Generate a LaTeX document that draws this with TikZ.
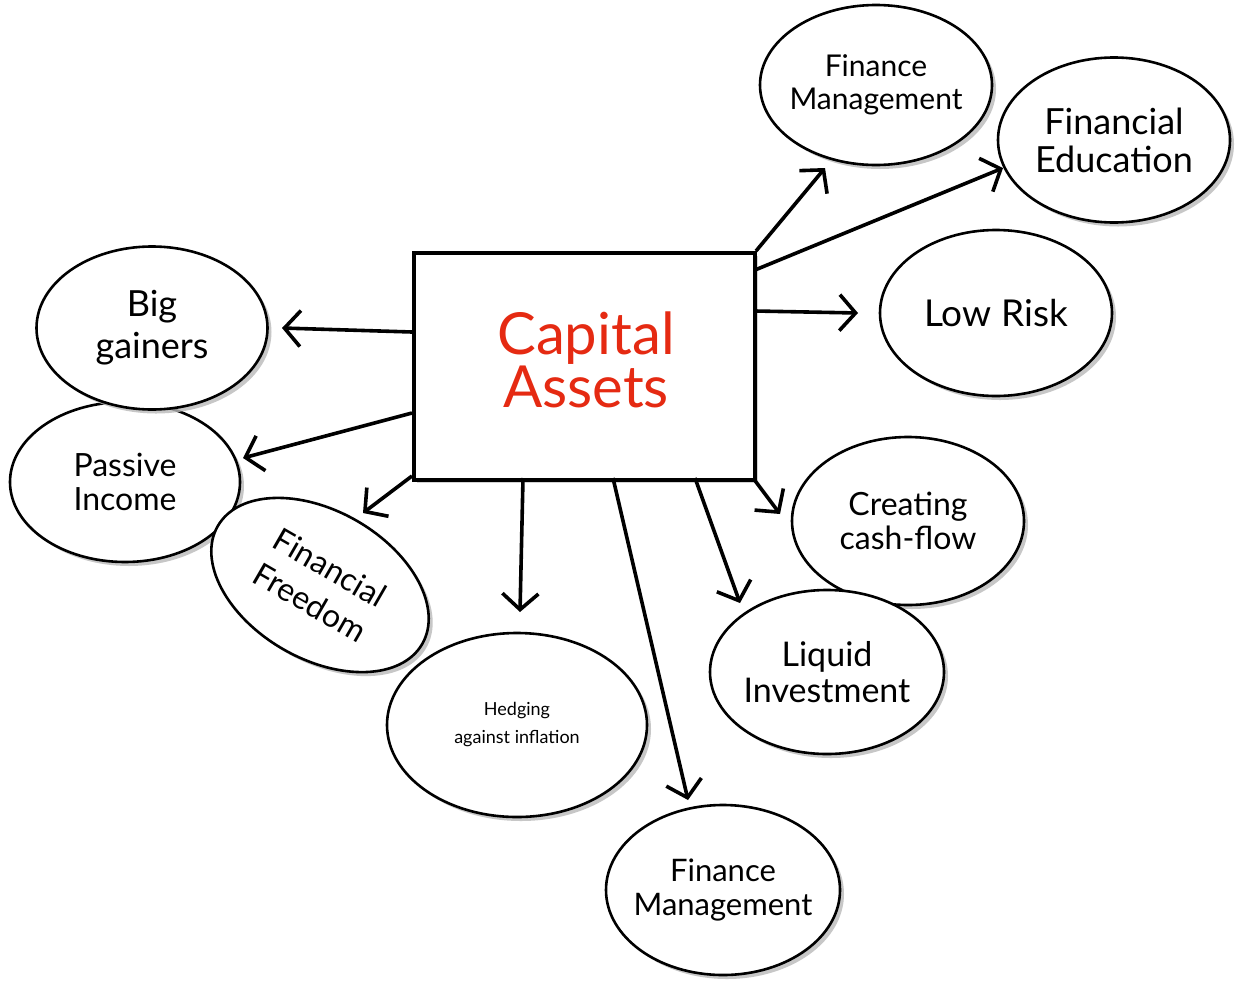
\documentclass[tikz,border=0pt]{standalone}
\usepackage{fontspec}
\setmainfont{Lato}
\usetikzlibrary{shapes.geometric,shadows,arrows.meta,calc}
\definecolor{capred}{HTML}{E52A12}
\tikzset{
  bub/.style={ellipse, draw=black, line width=2.6pt, fill=white, align=center,
    inner sep=-30pt, drop shadow={shadow xshift=4pt, shadow yshift=-4pt, fill=gray!55, opacity=0.8}},
  arr/.style={line width=3.6pt, -{Straight Barb[length=16pt,width=36pt,line width=3.6pt]}},
  fs/.style 2 args={font=\fontsize{#1}{#2}\selectfont}
}
\begin{document}
\begin{tikzpicture}[x=1pt,y=-1pt]
\useasboundingbox[fill=white] (0,0) rectangle (1244,996);

% center box
\node[draw=black, line width=4pt, fill=white, minimum width=341pt, minimum height=227pt,
  drop shadow={shadow xshift=3pt, shadow yshift=-3pt, fill=gray!70}]
  (ca) at (584.5,366.5) {};
\node[text=capred, align=center, fs={58}{50}] (cat) at (586,360) {Capital\\Assets};

% bubbles
\node[bub, minimum width=232pt, minimum height=160pt, fs={30}{33}] (fm1) at (876,85) {Finance\\Management};
\node[bub, minimum width=232pt, minimum height=165pt, fs={36}{38}] (fe) at (1114,140) {Financial\\Education};
\node[bub, minimum width=232pt, minimum height=166pt, fs={37}{40}] (lr) at (996,313) {Low Risk};
\node[bub, minimum width=230pt, minimum height=160pt, fs={32}{34}] (pi) at (125,482) {Passive\\Income};
\node[bub, minimum width=231pt, minimum height=163pt, fs={36}{42}] (bg) at (152,328) {Big\\gainers};
\node[bub, minimum width=236pt, minimum height=148pt, rotate=-30, fs={32}{40}] (ff) at (320,585) {Financial\\Freedom};
\node[bub, minimum width=260pt, minimum height=184pt, fs={18}{20}] (hi) at (517,725) {Hedging\\[8pt]against inflation};
\node[bub, minimum width=232pt, minimum height=168pt, fs={32}{34}] (cc) at (908,521) {Creating\\cash-flow};
\node[bub, minimum width=234pt, minimum height=164pt, fs={34}{36}] (li) at (827,672) {Liquid\\Investment};
\node[bub, minimum width=234pt, minimum height=170pt, fs={31}{34}] (fm2) at (723,890) {Finance\\Management};

% arrow tips
\coordinate (t1) at (825,168);
\coordinate (t2) at (1003,168);
\coordinate (t3) at (858,313);
\coordinate (t4) at (282,328);
\coordinate (t5) at (243,458);
\coordinate (t6) at (363,513);
\coordinate (t7) at (520,612);
\coordinate (t8) at (688,800);
\coordinate (t9) at (740,603);
\coordinate (t10) at (780,514);

\draw[arr] ($(ca.north west)+(344,0)$) -- (t1);
\draw[arr] ($(ca.north west)+(343,19)$) -- (t2);
\draw[arr] ($(ca.north west)+(343,60)$) -- (t3);
\draw[arr] ($(ca.north west)+(0,81)$) -- (t4);
\draw[arr] ($(ca.north west)+(0,162)$) -- (t5);
\draw[arr] ($(ca.north west)+(0,225)$) -- (t6);
\draw[arr] ($(ca.north west)+(111,227)$) -- (t7);
\draw[arr] ($(ca.north west)+(201,227)$) -- (t8);
\draw[arr] ($(ca.north west)+(283,227)$) -- (t9);
\draw[arr] ($(ca.north west)+(341,227)$) -- (t10);
\end{tikzpicture}
\end{document}
